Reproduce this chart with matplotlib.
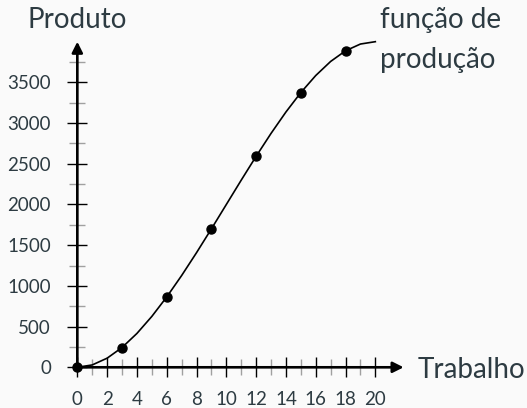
import numpy as np
import matplotlib.pyplot as plt

# valores
trabalho = [0, 1, 2, 3, 4, 5, 6, 7, 8, 9, 10, 11, 12, 13, 14, 15, 16, 17, 18, 19, 20]
produto = [0, 29, 112, 243, 416, 625, 864, 1127, 1408, 1701, 2000,
           2299, 2592, 2873, 3136, 3375, 3584, 3757, 3888, 3971, 4000]
pontos_x = [0, 3, 6, 9, 12, 15, 18]
pontos_y = [0, 243, 864, 1701, 2592, 3375, 3888]

xticks = list(range(0, 21, 2))
yticks = list(range(0, 3501, 500))

txt = '#2d3b42'
plt.rcParams['font.family'] = ['Lato', 'DejaVu Sans']

fig = plt.figure(figsize=(5.27, 4.08), dpi=100, facecolor='#fafafa')
ax = fig.add_axes([0, 0, 1, 1])
ax.set_facecolor('#fafafa')
ax.set_xlim(-5.19, 30.18)
ax.set_ylim(-500, 4512)

for s in ax.spines.values():
    s.set_color('none')
ax.spines['left'].set_position(('data', 0))
ax.spines['bottom'].set_position(('data', 0))

ax.set_xticks(xticks)
ax.set_xticks(range(1, 20, 2), minor=True)
ax.set_yticks(yticks)
ax.set_yticks(range(250, 3751, 500), minor=True)

ax.tick_params(which='major', direction='inout', length=15, width=1.0,
               color='black', labelsize=13.5, labelcolor=txt)
ax.tick_params(which='minor', direction='inout', length=11, width=1.0,
               color='#a0a0a0')
ax.tick_params(axis='x', which='major', pad=9.5)
ax.tick_params(axis='y', which='major', pad=11.5)

# eixos com setas
arrow = dict(arrowstyle='-|>', lw=1.9, color='black', mutation_scale=16,
             shrinkA=0, shrinkB=0)
ax.annotate('', xy=(21.9, 0), xytext=(0, 0), arrowprops=arrow)
ax.annotate('', xy=(0, 4000), xytext=(0, 0), arrowprops=arrow)

ax.plot(trabalho, produto, color='black', lw=1.2, zorder=3)
ax.plot(pontos_x, pontos_y, 'o', color='black', markersize=6.5, zorder=4)

ax.text(0, 4168, 'Produto', ha='center', va='baseline', fontsize=20, color=txt)
ax.text(22.87, -131, 'Trabalho', ha='left', va='baseline', fontsize=20, color=txt)
ax.text(20.32, 4168, 'função de', ha='left', va='baseline', fontsize=20, color=txt)
ax.text(20.32, 3676, 'produção', ha='left', va='baseline', fontsize=20, color=txt)

fig.savefig('out.png', dpi=100, facecolor=fig.get_facecolor())
